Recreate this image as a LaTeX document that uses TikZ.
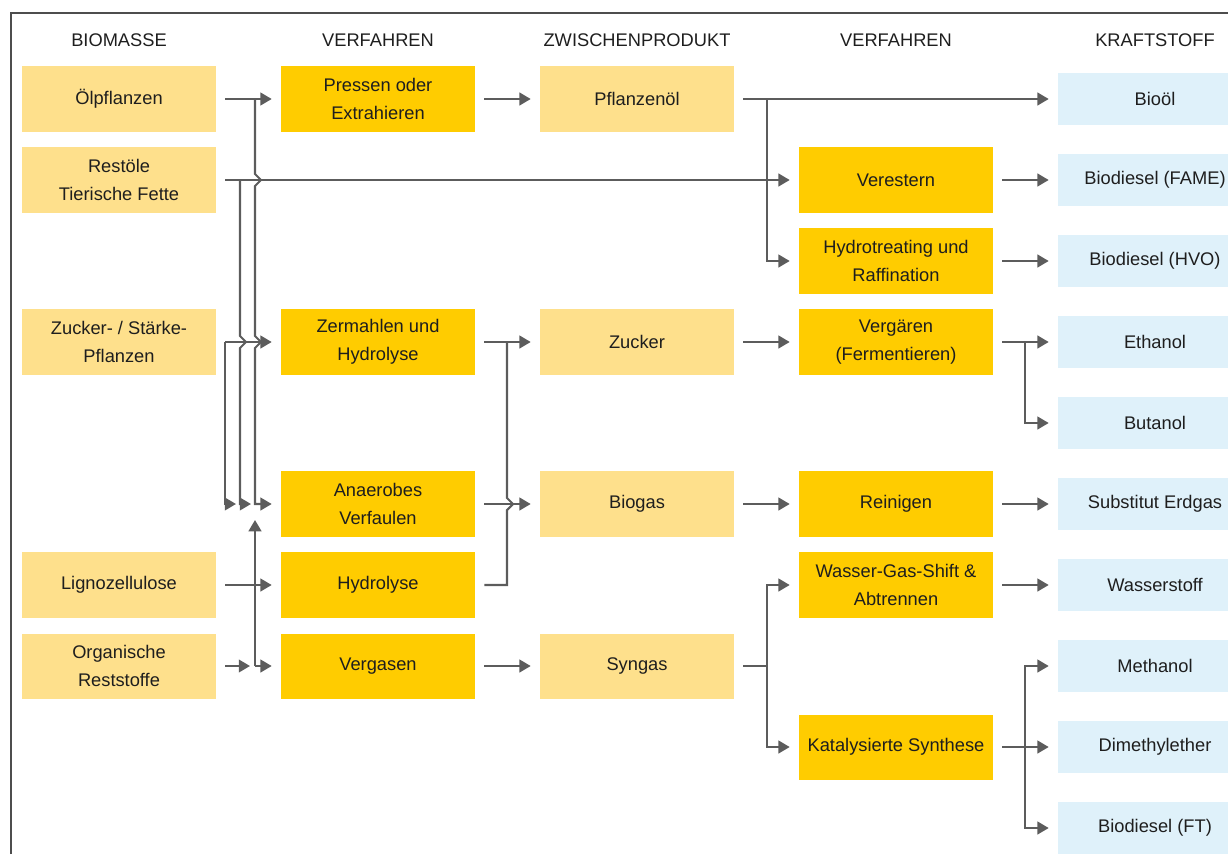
\documentclass[tikz,border=0pt]{standalone}
\usepackage{fontspec}
\setmainfont{Liberation Sans}
\usepackage{xcolor}
\usetikzlibrary{calc,arrows.meta}
\definecolor{rohgelb}{HTML}{FEE08C}
\definecolor{gelb}{HTML}{FFCC00}
\definecolor{hellblau}{HTML}{DFF1FA}
\definecolor{pfeil}{HTML}{5C5C5C}
\definecolor{schrift}{HTML}{1E1E1E}
\definecolor{rahmen}{HTML}{4D4D4D}
\tikzset{
  feld/.style={minimum width=4.85cm, minimum height=1.625cm, inner sep=2pt, align=center, text=schrift, font=\fontsize{13}{20}\selectfont},
  rohbox/.style={feld, fill=rohgelb},
  procbox/.style={feld, fill=gelb},
  fuelbox/.style={feld, fill=hellblau, minimum height=1.3cm},
  hdr/.style={text=schrift, font=\fontsize{13}{20}\selectfont},
  wire/.style={draw=pfeil, line width=1.5pt},
  tip/.style={wire, -{Triangle[length=8pt,width=9pt]}},
  flow/.style={tip, shorten <=0.225cm, shorten >=0.225cm},
}

\begin{document}
\begin{tikzpicture}[x=0.025cm, y=-0.025cm]
  \useasboundingbox (0,0) rectangle (1228,854);
  \clip (0,0) rectangle (1228,854);
  \draw[draw=rahmen, line width=1.1pt] (11,854) -- (11,13) -- (1228,13);

  \node[hdr] (h1) at (119,40) {BIOMASSE};
  \node[hdr] (h2) at (378,40) {VERFAHREN};
  \node[hdr] (h3) at (637,40) {ZWISCHENPRODUKT};
  \node[hdr] (h4) at (896,40) {VERFAHREN};
  \node[hdr] (h5) at (1155,40) {KRAFTSTOFF};

  \node[rohbox] (oel) at (119,99) {Ölpflanzen};
  \node[rohbox] (rest) at (119,180) {Restöle\\Tierische Fette};
  \node[rohbox] (zsp) at (119,342) {Zucker- / Stärke-\\Pflanzen};
  \node[rohbox] (ligno) at (119,585) {Lignozellulose};
  \node[rohbox] (orga) at (119,666) {Organische\\Reststoffe};

  \node[procbox] (press) at (378,99) {Pressen oder\\Extrahieren};
  \node[procbox] (zerm) at (378,342) {Zermahlen und\\Hydrolyse};
  \node[procbox] (anae) at (378,504) {Anaerobes\\Verfaulen};
  \node[procbox] (hydr) at (378,585) {Hydrolyse};
  \node[procbox] (verg) at (378,666) {Vergasen};

  \node[rohbox] (poel) at (637,99) {Pflanzenöl};
  \node[rohbox] (zuck) at (637,342) {Zucker};
  \node[rohbox] (biog) at (637,504) {Biogas};
  \node[rohbox] (syng) at (637,666) {Syngas};

  \node[procbox] (vest) at (896,180) {Verestern};
  \node[procbox] (hvot) at (896,261) {Hydrotreating und\\Raffination};
  \node[procbox] (ferm) at (896,342) {Vergären\\(Fermentieren)};
  \node[procbox] (rein) at (896,504) {Reinigen};
  \node[procbox] (wgs) at (896,585) {Wasser-Gas-Shift \&\\Abtrennen};
  \node[procbox] (kat) at (896,747) {Katalysierte Synthese};

  \node[fuelbox] (biooel) at (1155,99) {Bioöl};
  \node[fuelbox] (fame) at (1155,180) {Biodiesel (FAME)};
  \node[fuelbox] (hvo) at (1155,261) {Biodiesel (HVO)};
  \node[fuelbox] (etoh) at (1155,342) {Ethanol};
  \node[fuelbox] (buoh) at (1155,423) {Butanol};
  \node[fuelbox] (sng) at (1155,504) {Substitut Erdgas};
  \node[fuelbox] (htwo) at (1155,585) {Wasserstoff};
  \node[fuelbox] (meoh) at (1155,666) {Methanol};
  \node[fuelbox] (dme) at (1155,747) {Dimethylether};
  \node[fuelbox] (ft) at (1155,828) {Biodiesel (FT)};

  \coordinate (sA) at (225,0);
  \coordinate (sB) at (240,0);
  \coordinate (sC) at (255,0);
  \coordinate (sM) at (507,0);
  \coordinate (sR) at (767,0);
  \coordinate (sK) at (1025,0);

  \draw[flow] (oel.east) -- (press.west);
  \draw[flow] (rest.east) -- (vest.west);
  \draw[flow] (zsp.east) -- (zerm.west);
  \draw[flow] (ligno.east) -- (hydr.west);
  \draw[tip, shorten >=0.225cm] (sC|-oel) -- ($(sC|-rest)+(0,-6)$) -- ++(6,6) -- ++(-6,6)
    -- ($(sC|-zsp)+(0,-6)$) -- ++(6,6) -- ++(-6,6) -- (sC|-anae) -- (anae.west);
  \draw[tip] (sB|-rest) -- ($(sB|-zsp)+(0,-6)$) -- ++(6,6) -- ++(-6,6)
    -- (sB|-anae) -- ($(sC|-anae)+(-4,0)$);
  \draw[tip] (sA|-zsp) -- (sA|-anae) -- ($(sB|-anae)+(-4,0)$);
  \draw[tip] ($(orga.east)+(9,0)$) -- ($(sC|-orga)+(-5,0)$);
  \draw[tip, shorten >=0.225cm] (sC|-orga) -- (verg.west);
  \draw[tip] (sC|-orga) -- ($(sC|-anae)+(0,16)$);

  \draw[flow] (press.east) -- (poel.west);
  \draw[flow] (zerm.east) -- (zuck.west);
  \draw[flow] (anae.east) -- (biog.west);
  \draw[flow] (verg.east) -- (syng.west);
  \draw[wire] (sM|-zerm) -- ($(sM|-anae)+(0,-6)$) -- ++(6,6) -- ++(-6,6)
    -- (sM|-hydr) -- ($(hydr.east)+(9,0)$);

  \draw[flow] (poel.east) -- (biooel.west);
  \draw[tip, shorten >=0.225cm] (sR|-poel) -- (sR|-hvot) -- (hvot.west);
  \draw[flow] (zuck.east) -- (ferm.west);
  \draw[flow] (biog.east) -- (rein.west);
  \draw[wire] ($(syng.east)+(9,0)$) -- (sR|-syng);
  \draw[tip, shorten >=0.225cm] (sR|-syng) -- (sR|-wgs) -- (wgs.west);
  \draw[tip, shorten >=0.225cm] (sR|-syng) -- (sR|-kat) -- (kat.west);

  \draw[flow] (vest.east) -- (fame.west);
  \draw[flow] (hvot.east) -- (hvo.west);
  \draw[flow] (ferm.east) -- (etoh.west);
  \draw[tip, shorten >=0.225cm] (sK|-ferm) -- (sK|-buoh) -- (buoh.west);
  \draw[flow] (rein.east) -- (sng.west);
  \draw[flow] (wgs.east) -- (htwo.west);
  \draw[flow] (kat.east) -- (dme.west);
  \draw[tip, shorten >=0.225cm] (sK|-kat) -- (sK|-meoh) -- (meoh.west);
  \draw[tip, shorten >=0.225cm] (sK|-kat) -- (sK|-ft) -- (ft.west);
\end{tikzpicture}
\end{document}
